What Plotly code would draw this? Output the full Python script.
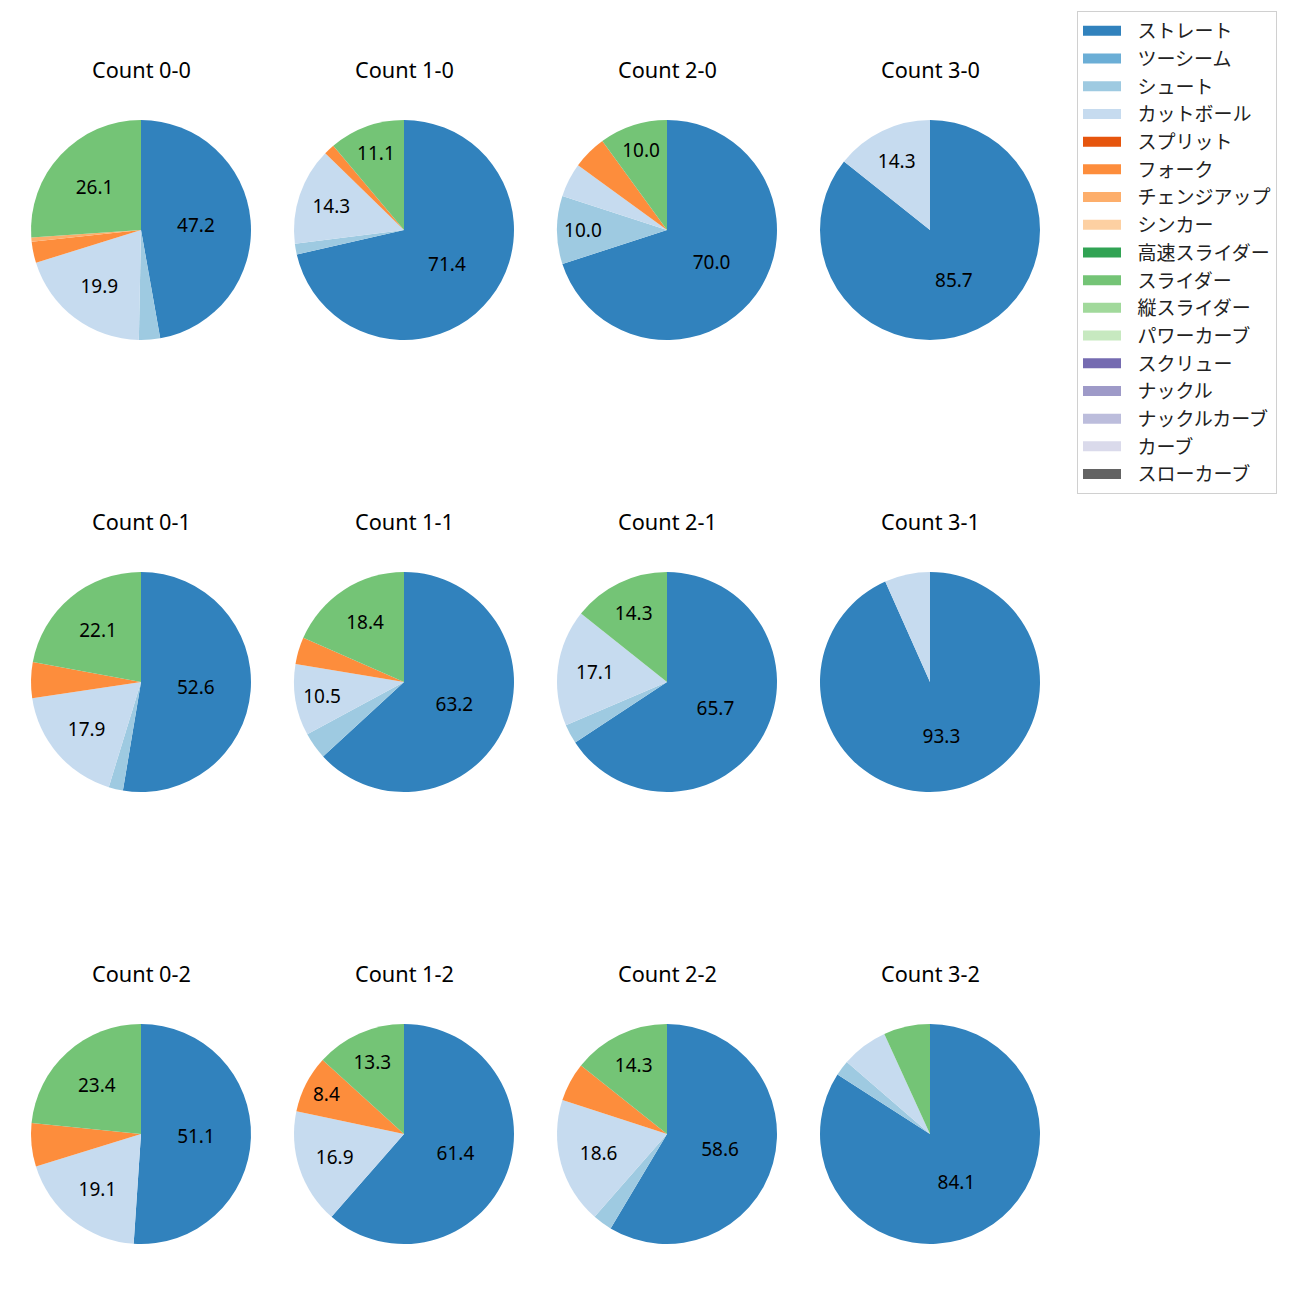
import plotly.graph_objects as go

pitch_types = ["ストレート", "ツーシーム", "シュート", "カットボール", "スプリット", "フォーク",
               "チェンジアップ", "シンカー", "高速スライダー", "スライダー", "縦スライダー",
               "パワーカーブ", "スクリュー", "ナックル", "ナックルカーブ", "カーブ", "スローカーブ"]
colors = ["#3182bd", "#6baed6", "#9ecae1", "#c6dbef", "#e6550d", "#fd8d3c", "#fdae6b", "#fdd0a2",
          "#31a354", "#74c476", "#a1d99b", "#c7e9c0", "#756bb1", "#9e9ac8", "#bcbddc", "#dadaeb",
          "#636363"]

counts = ["0-0", "1-0", "2-0", "3-0",
          "0-1", "1-1", "2-1", "3-1",
          "0-2", "1-2", "2-2", "3-2"]

# pitch counts per ball-strike count, order follows pitch_types
c00 = [76, 0, 5, 32, 0, 5, 1, 0, 0, 42, 0, 0, 0, 0, 0, 0, 0]
c10 = [45, 0, 1, 9, 0, 1, 0, 0, 0, 7, 0, 0, 0, 0, 0, 0, 0]
c20 = [14, 0, 2, 1, 0, 1, 0, 0, 0, 2, 0, 0, 0, 0, 0, 0, 0]
c30 = [6, 0, 0, 1, 0, 0, 0, 0, 0, 0, 0, 0, 0, 0, 0, 0, 0]
c01 = [50, 0, 2, 17, 0, 5, 0, 0, 0, 21, 0, 0, 0, 0, 0, 0, 0]
c11 = [48, 0, 3, 8, 0, 3, 0, 0, 0, 14, 0, 0, 0, 0, 0, 0, 0]
c21 = [23, 0, 1, 6, 0, 0, 0, 0, 0, 5, 0, 0, 0, 0, 0, 0, 0]
c31 = [14, 0, 0, 1, 0, 0, 0, 0, 0, 0, 0, 0, 0, 0, 0, 0, 0]
c02 = [24, 0, 0, 9, 0, 3, 0, 0, 0, 11, 0, 0, 0, 0, 0, 0, 0]
c12 = [51, 0, 0, 14, 0, 7, 0, 0, 0, 11, 0, 0, 0, 0, 0, 0, 0]
c22 = [41, 0, 2, 13, 0, 4, 0, 0, 0, 10, 0, 0, 0, 0, 0, 0, 0]
c32 = [37, 0, 1, 3, 0, 0, 0, 0, 0, 3, 0, 0, 0, 0, 0, 0, 0]
all_values = [c00, c10, c20, c30, c01, c11, c21, c31, c02, c12, c22, c32]

FONT = "Noto Sans, Noto Sans CJK JP"
W = H = 1300
OFF = 8  # page offset of the plot div
col_cx = [141, 404, 667, 930]
row_cy = [230, 682, 1134]
R = 110
title_dy = 161

fig = go.Figure()
annotations = []
for i, (cnt, vals) in enumerate(zip(counts, all_values)):
    r, c = divmod(i, 4)
    cx, cy = col_cx[c] - OFF, row_cy[r] - OFF
    total = sum(vals)
    txt = []
    for v in vals:
        p = 100.0 * v / total
        txt.append(f"{p:.1f}" if p >= 8 else "")
    fig.add_trace(go.Pie(
        labels=pitch_types, values=vals, text=txt, textinfo="text",
        textposition="inside", insidetextorientation="horizontal",
        textfont=dict(family=FONT, size=19, color="black"),
        marker=dict(colors=colors, line=dict(width=0)),
        sort=False, direction="clockwise", rotation=0,
        showlegend=False, hoverinfo="label+percent",
        domain=dict(x=[(cx - R) / W, (cx + R) / W], y=[1 - (cy + R) / H, 1 - (cy - R) / H]),
    ))
    annotations.append(dict(
        text=f"Count {cnt}", x=cx / W, y=1 - (cy - title_dy) / H, xref="paper", yref="paper",
        showarrow=False, xanchor="center", yanchor="middle",
        font=dict(family=FONT, size=21.7, color="black")))

# legend-only entries
for name, col in zip(pitch_types, colors):
    fig.add_trace(go.Scatter(
        x=[None], y=[None], mode="lines", name="\u2002\u200a" + name, legendgroup=name,
        line=dict(color=col, width=13), showlegend=True, hoverinfo="skip"))

fig.update_layout(
    width=W, height=H, margin=dict(l=0, r=0, t=0, b=0),
    paper_bgcolor="white", plot_bgcolor="white",
    xaxis=dict(visible=False), yaxis=dict(visible=False),
    annotations=annotations,
    legend=dict(x=(1077 - OFF) / W, y=1 - (11 - OFF) / H, xanchor="left", yanchor="top",
                bordercolor="#d0d0d0", borderwidth=1, bgcolor="white",
                font=dict(family=FONT, size=19, color="#222222"),
                tracegroupgap=0, itemwidth=38),
    font=dict(family=FONT),
)
fig.write_html("out.html")
